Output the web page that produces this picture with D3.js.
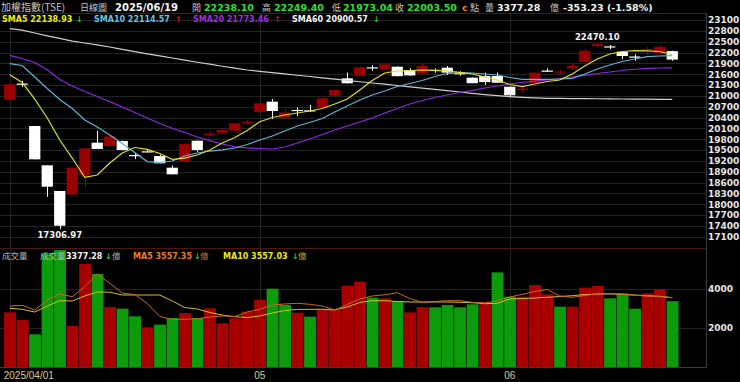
<!DOCTYPE html>
<html>
<head>
<meta charset="utf-8">
<script src="https://cdn.jsdelivr.net/npm/d3@7"></script>
<style>
body { margin: 0; background: #000; }
svg { display: block; font-family: "DejaVu Sans", sans-serif; }
</style>
</head>
<body>
<svg id="chart" width="740" height="382"></svg>
<script>
// TAIEX daily candles, 2025/04/01 - 2025/06/19
var dates = ["2025/04/01","2025/04/02","2025/04/07","2025/04/08","2025/04/09","2025/04/10","2025/04/11","2025/04/14","2025/04/15","2025/04/16",
    "2025/04/17","2025/04/18","2025/04/21","2025/04/22","2025/04/23","2025/04/24","2025/04/25","2025/04/28","2025/04/29","2025/04/30",
    "2025/05/02","2025/05/05","2025/05/06","2025/05/07","2025/05/08","2025/05/09","2025/05/12","2025/05/13","2025/05/14","2025/05/15",
    "2025/05/16","2025/05/19","2025/05/20","2025/05/21","2025/05/22","2025/05/23","2025/05/26","2025/05/27","2025/05/28","2025/05/29",
    "2025/06/02","2025/06/03","2025/06/04","2025/06/05","2025/06/06","2025/06/09","2025/06/10","2025/06/11","2025/06/12","2025/06/13",
    "2025/06/16","2025/06/17","2025/06/18","2025/06/19"];

var opens = [20890, 21340, 20165, 19076, 18365, 18272, 18808, 19703, 19611, 19749,
    19361, 19464, 19334, 19011, 19176, 19758, 19920, 19980, 20034, 20250,
    20552, 20838, 20378, 20610, 20600, 20683, 21005, 21485, 21558, 21790,
    21743, 21807, 21715, 21624, 21720, 21780, 21630, 21503, 21549, 21549,
    21253, 21160, 21347, 21700, 21660, 21763, 21937, 22380, 22370, 22222,
    22090, 22260, 22178, 22238.10];
var highs = [21330, 21420, 20165, 19076, 18365, 19011, 19546, 20034, 19900, 19760,
    19420, 19500, 19370, 19070, 19666, 19758, 20007, 20080, 20250, 20331,
    20800, 20912, 20640, 20682, 20746, 20940, 21170, 21643, 21800, 21854,
    21880, 21815, 21762, 21900, 21760, 21826, 21680, 21510, 21643, 21643,
    21260, 21260, 21650, 21762, 21720, 21900, 22305, 22470.10, 22408, 22230,
    22150, 22361, 22400, 22249.40];
var lows = [20880, 21250, 19240, 18207, 17306.97, 18272, 18438, 19528, 19611, 19490,
    19250, 19440, 19131, 18827, 19176, 19450, 19888, 19970, 20030, 20193,
    20540, 20358, 20378, 20441, 20561, 20680, 21000, 21340, 21550, 21696,
    21715, 21540, 21550, 21620, 21640, 21577, 21558, 21350, 21300, 21360,
    20959, 21100, 21340, 21660, 21605, 21715, 21930, 22324, 22289, 22012,
    21973, 22131, 22170, 21973.04];
var closes = [21320, 21340, 19242, 18484, 17404, 19011, 19546, 19528, 19878, 19500,
    19361, 19464, 19131, 18827, 19666, 19500, 19950, 20054, 20240, 20280,
    20793, 20580, 20540, 20610, 20590, 20932, 21162, 21347, 21791, 21781,
    21873, 21545, 21565, 21826, 21715, 21643, 21624, 21350, 21380, 21364,
    21015, 21200, 21643, 21697, 21675, 21826, 22250, 22440, 22360, 22103,
    22085, 22300, 22356.73, 22003.50];

// 成交量 (億)
var volumes = [2805, 2410, 1677, 5800, 6000, 2103, 5282, 4769, 3077, 2991,
    2598, 2034, 2171, 2513, 2769, 2513, 3009, 2239, 2496, 2838,
    3436, 4017, 3180, 2786, 2581, 2974, 2923, 4171, 4376, 3556,
    3521, 3385, 2805, 3077, 3060, 3180, 3060, 3214, 3316, 4855,
    3607, 3607, 4205, 3726, 3094, 3094, 4068, 4154, 3521, 3778,
    2991, 3778, 4000, 3377.28];

var sma5 = [21585, 21369, 20912, 20386, 19777, 19278, 18744, 18808, 19140, 19417,
    19569, 19519, 19403, 19242, 19278, 19362, 19500, 19694, 19846, 20040,
    20284, 20400, 20469, 20525, 20580, 20649, 20774, 20912, 21161, 21425,
    21632, 21688, 21701, 21715, 21707, 21688, 21652, 21605, 21522, 21438,
    21314, 21258, 21328, 21397, 21438, 21605, 21826, 22020, 22158, 22228,
    22250, 22247, 22228, 22138.93];
var sma10 = [21890, 21840, 21522, 21203, 20898, 20649, 20331, 20137, 19915, 19680,
    19431, 19181, 19154, 19195, 19334, 19417, 19472, 19505, 19555, 19652,
    19777, 19888, 20026, 20165, 20261, 20372, 20552, 20718, 20885, 21023,
    21134, 21258, 21341, 21425, 21535, 21618, 21641, 21632, 21605, 21577,
    21508, 21458, 21458, 21458, 21466, 21486, 21605, 21743, 21854, 21951,
    22020, 22084, 22103, 22114.57];
var sma20 = [22122, 22034, 21923, 21721, 21452, 21272, 21120, 20981, 20840, 20691,
    20538, 20386, 20234, 20104, 19985, 19860, 19760, 19666, 19589, 19561,
    19541, 19528, 19583, 19694, 19804, 19929, 20054, 20165, 20275, 20386,
    20525, 20649, 20774, 20871, 20954, 21023, 21092, 21153, 21217, 21272,
    21328, 21370, 21405, 21438, 21480, 21521, 21569, 21618, 21660, 21701,
    21737, 21762, 21771, 21773.46];
var sma60 = [22860, 22818, 22740, 22662, 22590, 22513, 22463, 22410, 22352, 22286,
    22225, 22164, 22106, 22048, 21990, 21931, 21876, 21820, 21765, 21715,
    21679, 21643, 21607, 21571, 21535, 21499, 21463, 21427, 21391, 21355,
    21322, 21286, 21250, 21214, 21178, 21142, 21106, 21070, 21034, 21004,
    20976, 20959, 20943, 20932, 20928, 20925, 20922, 20919, 20916, 20913,
    20910, 20907, 20904, 20900.57];

var volMa5 = [3128, 3164, 2923, 3436, 3744, 3605, 4118, 4769, 4292, 3795,
    3718, 3256, 2590, 2446, 2446, 2477, 2564, 2615, 2590, 2821,
    2959, 3179, 3231, 3267, 3215, 3128, 2923, 3205, 3487, 3641,
    3703, 3810, 3513, 3308, 3359, 3400, 3400, 3318, 3282, 3385,
    3590, 3728, 3872, 3974, 3641, 3574, 3667, 3744, 3774, 3728,
    3677, 3641, 3605, 3557.35];
var volMa10 = [3010, 2959, 2821, 3128, 3400, 3385, 3641, 3846, 3836, 3692,
    3692, 3692, 3692, 3385, 3051, 2974, 2795, 2667, 2579, 2538,
    2615, 2769, 2897, 2949, 2959, 2959, 2923, 3077, 3308, 3400,
    3400, 3359, 3333, 3333, 3333, 3333, 3318, 3297, 3246, 3267,
    3487, 3513, 3538, 3574, 3615, 3656, 3718, 3744, 3744, 3733,
    3692, 3651, 3626, 3557.03];

var priceTicks = [17100, 17400, 17700, 18000, 18300, 18600, 18900, 19200, 19500, 19800,
    20100, 20400, 20700, 21000, 21300, 21600, 21900, 22200, 22500, 22800, 23100];
var volTicks = [2000, 4000];
var monthLabels = ["2025/04/01", "05", "06"];

var plotRight = 706,
    volTop = 250,
    volBottom = 367;

var red = "#9a0000",
    volRed = "#a80000",
    volGreen = "#0b9b0b",
    grid = "#242424",
    numGreen = "#2ee02e",
    cjkFont = "'Noto Sans CJK TC', sans-serif";

var svg = d3.select("#chart");
svg.append("rect").attr("width", 740).attr("height", 382).attr("fill", "#000");

var idx = d3.range(dates.length);

var x = d3.scaleBand().domain(idx).range([3.5, 678.5]).paddingInner(0.1).paddingOuter(0.05);
var cx = function(i) { return x(i) + x.bandwidth() / 2; };
var y = d3.scaleLinear().domain([17100, 23100]).range([236.7, 20]);
var yv = d3.scaleLinear().domain([0, 4000]).range([volBottom, 289]);

var monthStarts = idx.filter(function(i) {
    return i === 0 || dates[i].slice(5, 7) !== dates[i - 1].slice(5, 7);
});

// grid
var gGrid = svg.append("g").attr("stroke", grid).attr("stroke-width", 1);
gGrid.selectAll("line.h").data(priceTicks).enter().append("line")
    .attr("x1", 0).attr("x2", plotRight)
    .attr("y1", function(d) { return Math.round(y(d)) + 0.5; })
    .attr("y2", function(d) { return Math.round(y(d)) + 0.5; });
gGrid.selectAll("line.v").data(volTicks).enter().append("line")
    .attr("x1", 0).attr("x2", plotRight)
    .attr("y1", function(d) { return Math.round(yv(d)) + 0.5; })
    .attr("y2", function(d) { return Math.round(yv(d)) + 0.5; });
gGrid.selectAll("line.m").data(monthStarts).enter().append("line")
    .attr("x1", function(i) { return Math.round(cx(i)) + 0.5; })
    .attr("x2", function(i) { return Math.round(cx(i)) + 0.5; })
    .attr("y1", 13).attr("y2", volBottom);

// frame
svg.append("line").attr("x1", 0).attr("x2", plotRight).attr("y1", 13.5).attr("y2", 13.5).attr("stroke", "#4a1616");
svg.append("line").attr("x1", 0).attr("x2", plotRight).attr("y1", 248.5).attr("y2", 248.5).attr("stroke", "#4a1616");
svg.append("line").attr("x1", 0).attr("x2", plotRight).attr("y1", volBottom + 0.5).attr("y2", volBottom + 0.5).attr("stroke", "#3a3a3a");
svg.append("line").attr("x1", plotRight + 0.5).attr("x2", plotRight + 0.5).attr("y1", 13).attr("y2", volBottom + 1).attr("stroke", "#3a3a3a");

// candles
var candles = svg.append("g").selectAll("g").data(idx).enter().append("g")
    .attr("fill", function(i) { return closes[i] > opens[i] ? red : "#fff"; })
    .attr("stroke", function(i) { return closes[i] > opens[i] ? red : "#fff"; });

candles.append("line")
    .attr("x1", function(i) { return Math.round(cx(i)) + 0.5; })
    .attr("x2", function(i) { return Math.round(cx(i)) + 0.5; })
    .attr("y1", function(i) { return y(highs[i]); })
    .attr("y2", function(i) { return y(lows[i]); })
    .attr("stroke-width", 1);

candles.append("rect")
    .attr("stroke", "none")
    .attr("x", function(i) { return x(i); })
    .attr("width", x.bandwidth())
    .attr("y", function(i) { return y(Math.max(opens[i], closes[i])); })
    .attr("height", function(i) {
        return Math.max(1.2, y(Math.min(opens[i], closes[i])) - y(Math.max(opens[i], closes[i])));
    });

// moving averages
var line = d3.line()
    .x(function(d, i) { return cx(i); })
    .y(function(d) { return y(d); });

[[sma60, "#cfcfcf"], [sma20, "#8a2be2"], [sma10, "#62b4d4"], [sma5, "#dede22"]].forEach(function(s) {
    svg.append("path").datum(s[0])
        .attr("d", line)
        .attr("fill", "none")
        .attr("stroke", s[1])
        .attr("stroke-width", 1.2);
});

function fmt(v) { return v.toFixed(2); }

// max / min labels
var hi = d3.maxIndex(highs), lo = d3.minIndex(lows);
svg.append("text").attr("x", cx(hi)).attr("y", y(highs[hi]) - 3)
    .attr("text-anchor", "middle").attr("font-size", 8.5).attr("font-weight", "bold")
    .attr("fill", "#f4f4f4").text(fmt(highs[hi]));
svg.append("text").attr("x", cx(lo)).attr("y", y(lows[lo]) + 9)
    .attr("text-anchor", "middle").attr("font-size", 8.5).attr("font-weight", "bold")
    .attr("fill", "#f4f4f4").text(fmt(lows[lo]));

// volume
svg.append("clipPath").attr("id", "volClip").append("rect")
    .attr("x", 0).attr("y", volTop).attr("width", plotRight).attr("height", volBottom - volTop);

var volUp = function(i) {
    return i === 0 ? closes[0] >= opens[0] : closes[i] >= closes[i - 1];
};

var gVol = svg.append("g").attr("clip-path", "url(#volClip)");
gVol.selectAll("rect").data(idx).enter().append("rect")
    .attr("x", function(i) { return x(i); })
    .attr("width", x.bandwidth() + 0.6)
    .attr("y", function(i) { return yv(volumes[i]); })
    .attr("height", function(i) { return volBottom - yv(volumes[i]); })
    .attr("fill", function(i) { return volUp(i) ? volRed : volGreen; });

var vline = d3.line()
    .x(function(d, i) { return cx(i); })
    .y(function(d) { return yv(d); });

[[volMa10, "#d2c024"], [volMa5, "#c86a1e"]].forEach(function(s) {
    gVol.append("path").datum(s[0])
        .attr("d", vline)
        .attr("fill", "none")
        .attr("stroke", s[1])
        .attr("stroke-width", 1);
});

// axes
var yAxis = d3.axisRight(y).tickValues(priceTicks).tickSize(0).tickPadding(2).tickFormat(d3.format("d"));
svg.append("g").attr("transform", "translate(" + plotRight + ",0)")
    .call(yAxis)
    .attr("font-family", "DejaVu Sans").attr("font-size", 9).attr("font-weight", "bold")
    .call(function(g) { g.select(".domain").remove(); })
    .selectAll("text").attr("fill", "#e6e6e6");

var vAxis = d3.axisRight(yv).tickValues(volTicks).tickSize(0).tickPadding(2).tickFormat(d3.format("d"));
svg.append("g").attr("transform", "translate(" + plotRight + ",0)")
    .call(vAxis)
    .attr("font-family", "DejaVu Sans").attr("font-size", 9).attr("font-weight", "bold")
    .call(function(g) { g.select(".domain").remove(); })
    .selectAll("text").attr("fill", "#e6e6e6");

var xAxis = d3.axisBottom(x).tickValues(monthStarts).tickSize(0).tickPadding(4)
    .tickFormat(function(d, k) { return monthLabels[k]; });
var gx = svg.append("g").attr("transform", "translate(0," + (volBottom + 1) + ")")
    .call(xAxis)
    .attr("font-family", "'Liberation Sans', sans-serif").attr("font-size", 10);
gx.select(".domain").remove();
gx.selectAll("text").attr("fill", "#d6cc8c");
gx.selectAll("text").filter(function(d) { return d === 0; })
    .attr("text-anchor", "start").attr("x", -6);

// header texts
function label(xp, yp, txt, color, opts) {
    opts = opts || {};
    return svg.append("text")
        .attr("x", xp).attr("y", yp)
        .attr("fill", color)
        .attr("font-size", opts.size || (opts.cjk ? 9 : 9.5))
        .attr("font-weight", opts.cjk ? "normal" : "bold")
        .attr("font-family", opts.cjk ? cjkFont : null)
        .text(txt);
}

var last = dates.length - 1,
    change = closes[last] - closes[last - 1];

label(1, 11, "加權指數(TSE)", "#c4c4c4", {cjk: true, size: 10});
label(80, 11, "日線圖", "#c4c4c4", {cjk: true});
label(115, 11, dates[last], "#f4f4f4", {size: 10});
label(192, 11, "開", "#c4c4c4", {cjk: true});
label(204, 11, fmt(opens[last]), numGreen);
label(262, 11, "高", "#c4c4c4", {cjk: true});
label(274, 11, fmt(highs[last]), numGreen);
label(332, 11, "低", "#c4c4c4", {cjk: true});
label(343, 11, fmt(lows[last]), numGreen);
label(395, 11, "收", "#c4c4c4", {cjk: true});
label(407, 11, fmt(closes[last]), numGreen);
label(462, 11, "c", "#e08a20");
label(470, 11, "點", "#c4c4c4", {cjk: true});
label(485, 11, "量", "#c4c4c4", {cjk: true});
label(497, 11, fmt(volumes[last]), "#f4f4f4");
label(550, 11, "億", "#c4c4c4", {cjk: true});
label(563, 11, fmt(change) + " (" + fmt(change / closes[last - 1] * 100) + "%)", "#f4f4f4");

// moving average legend
function arrow(xp, yp, cur, prev) {
    return label(xp, yp, cur >= prev ? "↑" : "↓", cur >= prev ? "#e01010" : "#22d022", {size: 8});
}
label(2, 22, "SMA5 " + fmt(sma5[last]), "#ecec10", {size: 8});
arrow(76, 22, sma5[last], sma5[last - 1]);
label(94, 22, "SMA10 " + fmt(sma10[last]), "#6cc2e2", {size: 8});
arrow(175, 22, sma10[last], sma10[last - 1]);
label(193, 22, "SMA20 " + fmt(sma20[last]), "#9a30da", {size: 8});
arrow(274, 22, sma20[last], sma20[last - 1]);
label(292, 22, "SMA60 " + fmt(sma60[last]), "#f2f2f2", {size: 8});
arrow(373, 22, sma60[last], sma60[last - 1]);

// volume legend
label(2, 259, "成交量", "#b4b4b4", {cjk: true, size: 8.5});
label(40, 259, "成交量", "#b4b4b4", {cjk: true, size: 8.5});
label(66, 259, fmt(volumes[last]), "#f4f4f4", {size: 8});
arrow(105, 259, volumes[last], volumes[last - 1]);
label(112, 259, "億", "#b4b4b4", {cjk: true, size: 8.5});
label(133, 259, "MA5 " + fmt(volMa5[last]), "#ee7a2a", {size: 8});
arrow(194, 259, volMa5[last], volMa5[last - 1]);
label(200, 259, "億", "#c87a2a", {cjk: true, size: 8.5});
label(223, 259, "MA10 " + fmt(volMa10[last]), "#ecec10", {size: 8});
arrow(292, 259, volMa10[last], volMa10[last - 1]);
label(298, 259, "億", "#c8b020", {cjk: true, size: 8.5});
</script>
</body>
</html>
